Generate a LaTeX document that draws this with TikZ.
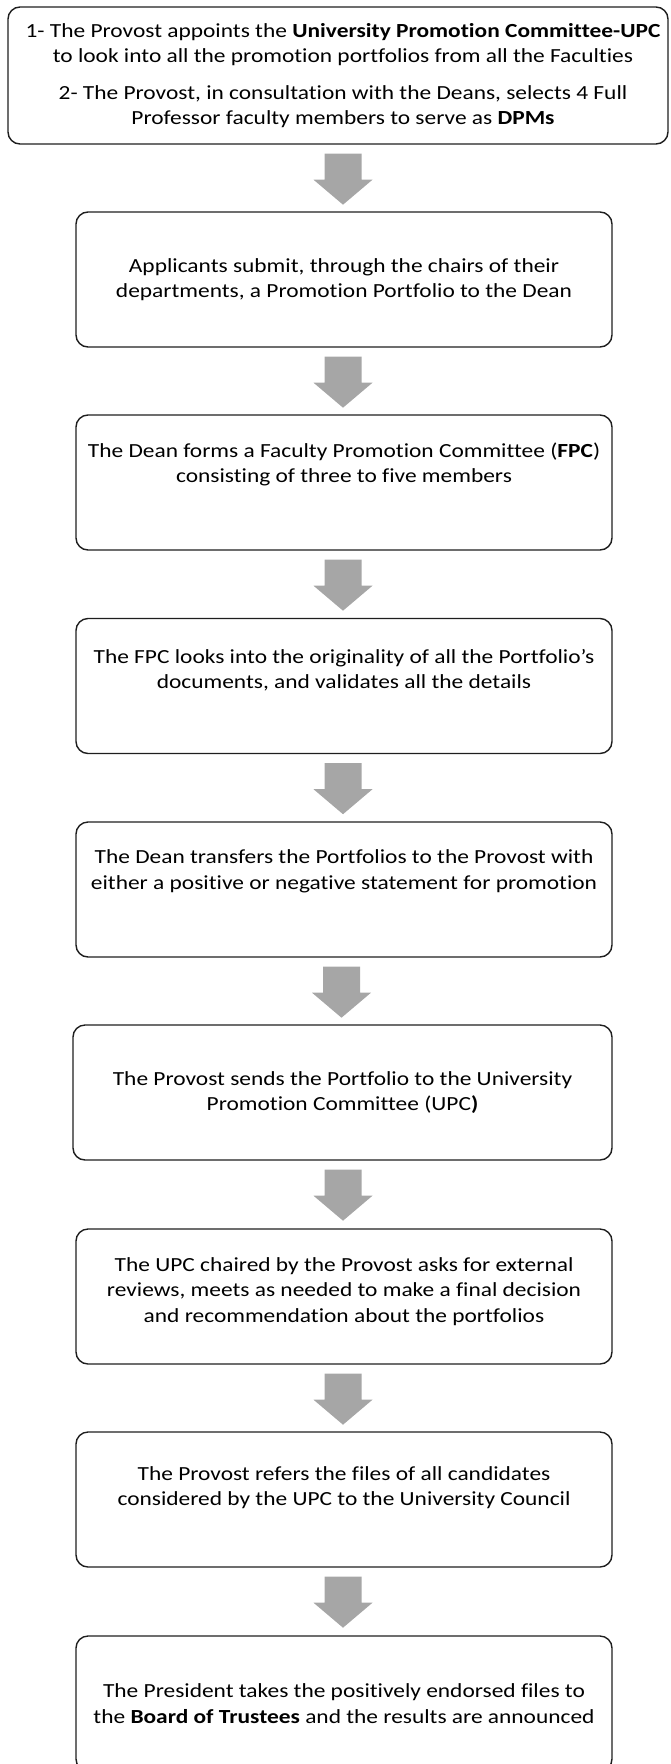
\documentclass[tikz,border=0pt]{standalone}
\usepackage{fontspec}
\setmainfont{Carlito}[FakeStretch=1.17, Ligatures=NoCommon]
\usetikzlibrary{calc}
\definecolor{arrowgray}{RGB}{166,166,166}
\definecolor{boxline}{RGB}{30,30,30}
\newcommand\flowarrow[2]{%
  \fill[arrowgray] ($(#1.south -| #2.north)+(-19.5,9)$) -- ++(37,0) -- ++(0,26) -- ++(11,0)
    -- ++(-29.5,25) -- ++(-29.5,-25) -- ++(11,0) -- cycle;}
\begin{document}
\begin{tikzpicture}[x=1pt,y=-1pt,
  box/.style={draw=boxline, line width=1.4pt, rounded corners=12pt, inner sep=0pt,
    minimum width=536pt, minimum height=135pt},
  txt/.style={align=center, font=\fontsize{20}{25.5}\selectfont, inner sep=0pt, text=black}]
\path[use as bounding box, clip] (0,0) rectangle (670,1764);

\node[box, minimum width=660pt, minimum height=137pt] (b1) at (338,75.5) {};
\node[box] (b2) at (344,279.5) {};
\node[box] (b3) at (344,482.5) {};
\node[box] (b4) at (344,686) {};
\node[box] (b5) at (344,889.5) {};
\node[box, minimum width=539pt] (b6) at (342.5,1092.5) {};
\node[box] (b7) at (344,1296.5) {};
\node[box] (b8) at (344,1499.5) {};
\node[box] (b9) at (344,1703.5) {};

\node[txt] (t1) at ([xshift=5pt]b1.center) {1- The Provost appoints the \textbf{University Promotion Committee-UPC}\\
  to look into all the promotion portfolios from all the Faculties\\[11pt]
  2- The Provost, in consultation with the Deans, selects 4 Full\\
  Professor faculty members to serve as \textbf{DPMs}};
\node[txt] (t2) at (b2.center) {Applicants submit, through the chairs of their\\
  departments, a Promotion Portfolio to the Dean};
\node[txt] (t3) at ([yshift=18pt]b3.center) {The Dean forms a Faculty Promotion Committee (\textbf{FPC})\\
  consisting of three to five members};
\node[txt] (t4) at ([yshift=16pt]b4.center) {The FPC looks into the originality of all the Portfolio’s\\
  documents, and validates all the details};
\node[txt] (t5) at ([yshift=18pt]b5.center) {The Dean transfers the Portfolios to the Provost with\\
  either a positive or negative statement for promotion};
\node[txt] (t6) at (b6.center) {The Provost sends the Portfolio to the University\\
  Promotion Committee (UPC\textbf{)}};
\node[txt] (t7) at ([yshift=5pt]b7.center) {The UPC chaired by the Provost asks for external\\
  reviews, meets as needed to make a final decision\\
  and recommendation about the portfolios};
\node[txt] (t8) at ([yshift=12pt]b8.center) {The Provost refers the files of all candidates\\
  considered by the UPC to the University Council};
\node[txt] (t9) at (b9.center) {The President takes the positively endorsed files to\\
  the \textbf{Board of Trustees} and the results are announced};

\flowarrow{b1}{b2}
\flowarrow{b2}{b3}
\flowarrow{b3}{b4}
\flowarrow{b4}{b5}
\flowarrow{b5}{b6}
\flowarrow{b6}{b7}
\flowarrow{b7}{b8}
\flowarrow{b8}{b9}
\end{tikzpicture}
\end{document}
